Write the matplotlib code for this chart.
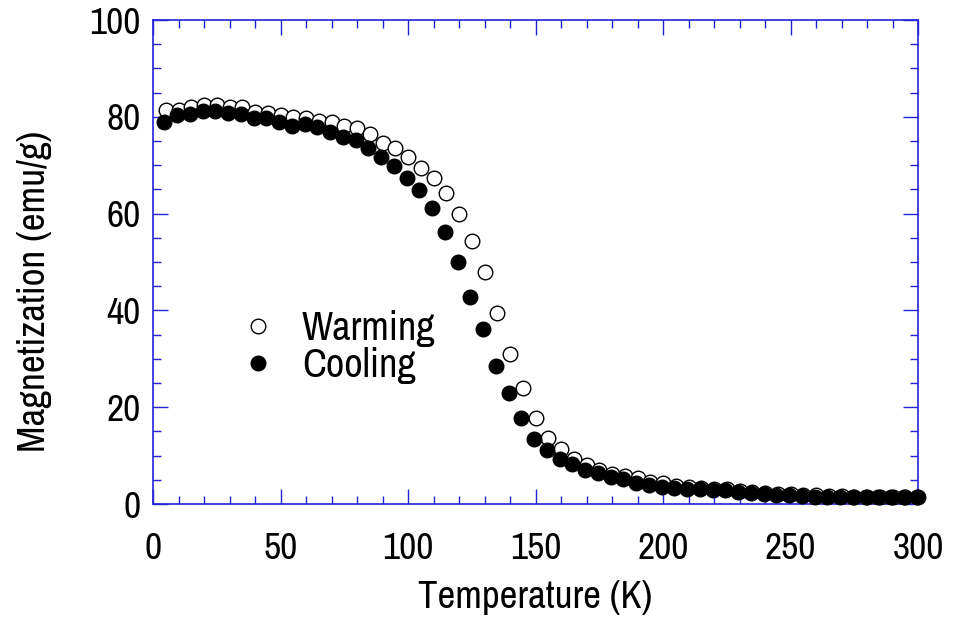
import numpy as np
import matplotlib
matplotlib.use("Agg")
import matplotlib.pyplot as plt
from matplotlib.ticker import MultipleLocator
from matplotlib.lines import Line2D

plt.rcParams['font.family'] = ['Archivo Narrow', 'Liberation Sans', 'DejaVu Sans']

# Temperature grids (K)
temp_warming = [5, 10, 15, 20, 25, 30, 35, 40, 45, 50, 55, 60, 65, 70, 75, 80, 85, 90, 95, 100,
                105, 110, 115, 120, 125, 130, 135, 140, 145, 150, 155, 160, 165, 170, 175, 180, 185, 190, 195, 200,
                205, 210, 215, 220, 225, 230, 235, 240, 245, 250, 255, 260, 265, 270, 275, 280, 285, 290, 295, 300]
temp_cooling = [4.5, 9.5, 14.5, 19.5, 24.5, 29.5, 34.5, 39.5, 44.5, 49.5, 54.5, 59.5, 64.5, 69.5, 74.5, 79.5,
                84.5, 89.5, 94.5, 99.5, 104.5, 109.5, 114.5, 119.5, 124.5, 129.5, 134.5, 139.5, 144.5, 149.5,
                154.5, 159.5, 164.5, 169.5, 174.5, 179.5, 184.5, 189.5, 194.5, 199.5, 204.5, 209.5, 214.5, 219.5,
                224.5, 229.5, 234.5, 239.5, 244.5, 249.5, 254.5, 259.5, 264.5, 269.5, 274.5, 279.5, 284.5, 289.5,
                294.5, 299.5]

# Magnetization (emu/g)
mag_warming = [81.4, 81.4, 82.0, 82.4, 82.4, 82.0, 82.0, 80.9, 80.7, 80.4, 80.0, 79.7, 79.2, 79.0, 78.0, 77.6,
               76.4, 74.5, 73.5, 71.6, 69.4, 67.4, 64.2, 59.9, 54.3, 48.0, 39.5, 30.9, 23.9, 17.7,
               13.6, 11.3, 9.4, 8.1, 7.0, 6.3, 5.8, 5.3, 4.6, 4.3, 3.8, 3.5, 3.3, 3.1, 3.0, 2.7, 2.5, 2.3,
               2.1, 2.0, 1.9, 1.8, 1.7, 1.6, 1.5, 1.5, 1.5, 1.5, 1.5, 1.5]
mag_cooling = [79.0, 80.4, 80.5, 81.1, 81.1, 80.7, 80.6, 79.7, 79.7, 79.0, 78.2, 78.6, 77.8, 76.9, 75.9, 75.2,
               73.5, 71.6, 69.9, 67.3, 64.9, 61.1, 56.3, 50.0, 42.7, 36.1, 28.6, 22.9, 17.7, 13.4,
               11.2, 9.4, 8.3, 7.0, 6.5, 5.5, 5.1, 4.4, 3.9, 3.6, 3.4, 3.2, 3.0, 2.8, 2.8, 2.4, 2.2, 2.1,
               1.9, 1.8, 1.65, 1.5, 1.5, 1.4, 1.4, 1.4, 1.4, 1.4, 1.4, 1.4]

series_labels = ["Warming", "Cooling"]
x_ticks = [0, 50, 100, 150, 200, 250, 300]
y_ticks = [0, 20, 40, 60, 80, 100]

frame_blue = '#2222d8'

fig = plt.figure(figsize=(9.58, 6.26), dpi=100)
ax = fig.add_axes([153 / 958, (626 - 504) / 626, 765 / 958, 484 / 626])

ax.plot(temp_warming, mag_warming, linestyle='none', marker='o', ms=10.5,
        mfc='white', mec='black', mew=1.0, clip_on=False, zorder=3)
ax.plot(temp_cooling, mag_cooling, linestyle='none', marker='o', ms=10.5,
        mfc='black', mec='black', mew=1.0, clip_on=False, zorder=4)

ax.set_xlim(0, 300)
ax.set_ylim(0, 100)
ax.set_xticks(x_ticks)
ax.set_yticks(y_ticks)
ax.xaxis.set_minor_locator(MultipleLocator(10))
ax.yaxis.set_minor_locator(MultipleLocator(5))

for sp in ax.spines.values():
    sp.set_color(frame_blue)
    sp.set_linewidth(1.2)

ax.tick_params(which='both', direction='in', top=True, right=True, color=frame_blue, width=1.0)
ax.tick_params(which='major', length=10.5)
ax.tick_params(which='minor', length=6)
ax.tick_params(axis='x', which='major', labelsize=27, pad=20)
ax.tick_params(axis='y', which='major', labelsize=27, pad=9)

ax.set_xlabel("Temperature (K)", fontsize=28)
ax.set_ylabel("Magnetization (emu/g)", fontsize=28)
ax.xaxis.set_label_coords(0.5, -0.157)
ax.yaxis.set_label_coords(-0.132, 0.44)

handles = [
    Line2D([], [], linestyle='none', marker='o', ms=10.5, mfc='white', mec='black', mew=1.0),
    Line2D([], [], linestyle='none', marker='o', ms=10.5, mfc='black', mec='black', mew=1.0),
]
ax.legend(handles, series_labels, loc='upper left', bbox_to_anchor=(0.123, 0.4),
          frameon=False, fontsize=29, borderpad=0, borderaxespad=0,
          handlelength=0.53, handletextpad=0.83, labelspacing=0.0)

fig.savefig("out.png", dpi=100)
